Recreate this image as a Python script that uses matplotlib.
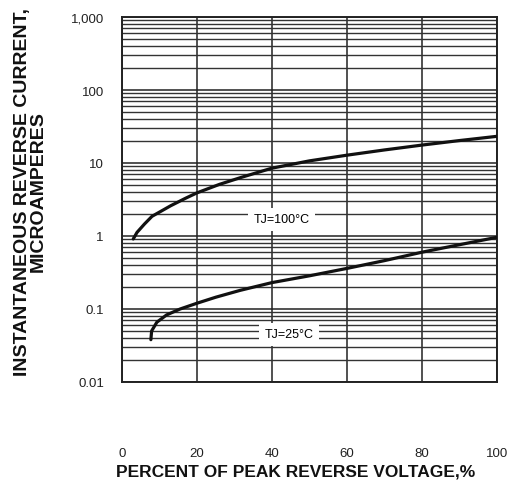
import matplotlib
matplotlib.use("Agg")
import matplotlib.pyplot as plt
from matplotlib.ticker import FixedLocator, NullFormatter

plt.rcParams['font.family'] = ['Liberation Sans', 'DejaVu Sans']

# percent of peak reverse voltage vs reverse current (uA)
x_100 = [3, 4, 6, 8, 13, 17, 20, 26, 32, 40, 50, 60, 70, 80, 90, 100]
i_100 = [0.91, 1.12, 1.46, 1.86, 2.6, 3.3, 3.9, 5.1, 6.4, 8.5, 10.7, 12.8, 15.1, 17.6, 20.3, 23.2]

x_25 = [7.7, 7.9, 9.3, 11.9, 15.5, 20, 25, 31.5, 40, 50, 60, 70, 80, 90, 100]
i_25 = [0.038, 0.050, 0.066, 0.083, 0.100, 0.120, 0.145, 0.180, 0.230, 0.285, 0.36, 0.46, 0.60, 0.76, 0.96]

x_ticks = [0, 20, 40, 60, 80, 100]
y_ticks = [0.01, 0.1, 1, 10, 100, 1000]
y_tick_labels = ['0.01', '0.1', '1', '10', '100', '1,000']

W, H = 514, 485
fig = plt.figure(figsize=(W / 100, H / 100), dpi=100)
ax = fig.add_axes([122 / W, 1 - 383 / H, (497 - 122) / W, (383 - 18) / H])

ax.set_yscale('log')
ax.set_xlim(0, 100)
ax.set_ylim(0.01, 1000)

# log grid: every 1..9 step in each decade
minor = [m * 10.0 ** e for e in range(-2, 3) for m in range(2, 10)]
ax.yaxis.set_major_locator(FixedLocator(y_ticks))
ax.yaxis.set_minor_locator(FixedLocator(minor))
ax.yaxis.set_minor_formatter(NullFormatter())
ax.set_yticklabels(y_tick_labels)
ax.set_xticks(x_ticks)

ax.grid(True, which='major', axis='both', color='#222222', linewidth=1.1)
ax.grid(True, which='minor', axis='y', color='#333333', linewidth=1.0)
ax.tick_params(axis='both', which='both', length=0, labelsize=9.5, colors='#222222')
ax.tick_params(axis='x', pad=47)
ax.tick_params(axis='y', pad=13)
for s in ax.spines.values():
    s.set_linewidth(1.4)
    s.set_color('#222222')
ax.set_axisbelow(True)

ax.plot(x_100, i_100, color='#111111', linewidth=2.3, solid_capstyle='round',
        solid_joinstyle='round', zorder=3)
ax.plot(x_25, i_25, color='#111111', linewidth=2.3, solid_capstyle='round',
        solid_joinstyle='round', zorder=3)

box = dict(facecolor='white', edgecolor='none', pad=4)
ax.text(42.5, 1.7, 'TJ=100°C', fontsize=9, ha='center', va='center', bbox=box, zorder=4)
ax.text(44.5, 0.045, 'TJ=25°C', fontsize=9, ha='center', va='center', bbox=box, zorder=4)

fig.text(30 / W, 1 - 192 / H, 'INSTANTANEOUS REVERSE CURRENT,\nMICROAMPERES',
         rotation=90, ha='center', va='center', multialignment='center',
         fontsize=14, fontweight='bold', linespacing=0.9, color='#111111')
fig.text(296 / W, 1 - 472 / H, 'PERCENT OF PEAK REVERSE VOLTAGE,%',
         ha='center', va='center', fontsize=12.5, fontweight='bold', color='#111111')

fig.savefig('out.png', dpi=100)
